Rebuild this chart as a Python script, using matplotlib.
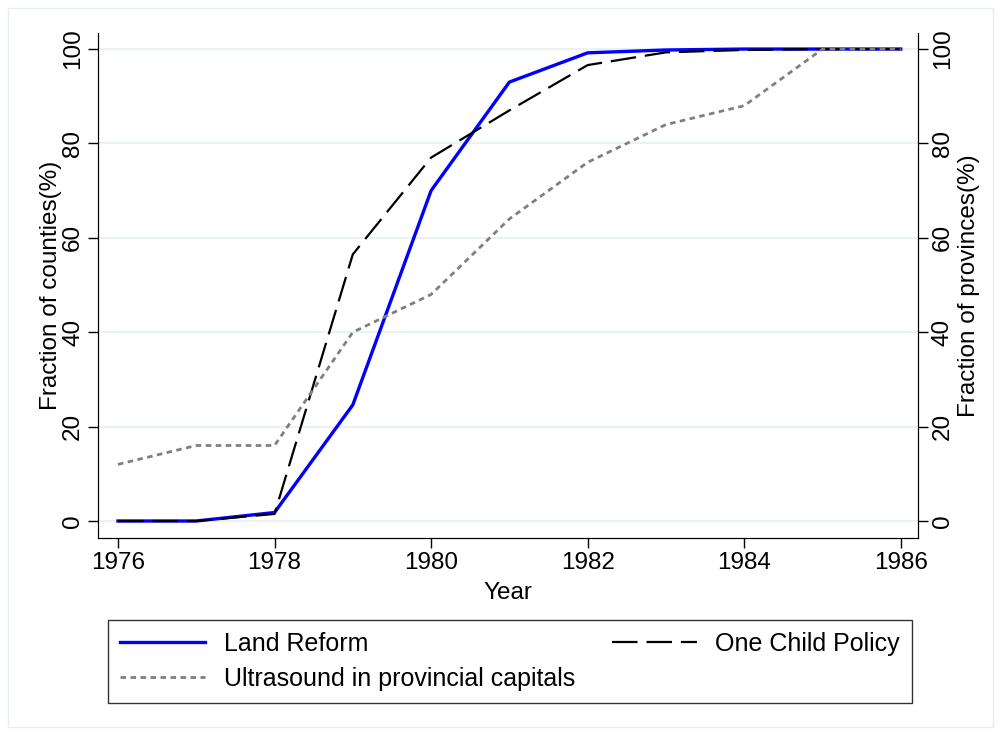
import numpy as np
import matplotlib.pyplot as plt
from matplotlib.patches import Rectangle

plt.rcParams['font.family'] = ['Liberation Sans', 'DejaVu Sans']

years = [1976, 1977, 1978, 1979, 1980, 1981, 1982, 1983, 1984, 1985, 1986]
land_reform = [0, 0, 1.8, 24.6, 70, 93, 99.2, 99.8, 100, 100, 100]
one_child = [0, 0, 1.5, 56.5, 77, 87, 96.6, 99.3, 99.8, 100, 100]
ultrasound = [12, 16, 16, 40, 48, 64, 76, 84, 88, 100, 100]

yticks = [0, 20, 40, 60, 80, 100]
xticks = [1976, 1978, 1980, 1982, 1984, 1986]
fs = 17.5

fig = plt.figure(figsize=(10.01, 7.35), dpi=100)
fig.patches.append(Rectangle((8 / 1001, 8 / 735), 985 / 1001, 719 / 735,
                             transform=fig.transFigure, fill=False,
                             edgecolor='#e6eef0', linewidth=1))

ax = fig.add_axes([98 / 1001, 1 - 538 / 735, 820 / 1001, 505 / 735])
for yv in yticks:
    ax.axhline(yv, color='#eaf2f3', linewidth=1.5, zorder=0)

# blue first, then black dashes, gray dots on top (as in the original)
l1, = ax.plot(years, land_reform, color='#0000ff', linewidth=2.4,
              label='Land Reform')
l2, = ax.plot(years, one_child, color='black', linewidth=1.6,
              linestyle=(0, (11.5, 4)), label='One Child Policy')
l3, = ax.plot(years, ultrasound, color='#808080', linewidth=2,
              linestyle=(0, (2, 1.6)), label='Ultrasound in provincial capitals')

ax.set_xlim(1975.745, 1986.22)
ax.set_ylim(-3.6, 103.4)
ax.set_xticks(xticks)
ax.set_yticks(yticks)
ax.tick_params(labelsize=fs, length=7, width=1, pad=3)
plt.setp(ax.get_yticklabels(), rotation=90, va='center')
ax.set_xlabel('Year', fontsize=fs, labelpad=6)
ax.set_ylabel('Fraction of counties(%)', fontsize=fs, labelpad=0)
ax.spines['top'].set_visible(False)

ax2 = ax.twinx()
ax2.set_ylim(ax.get_ylim())
ax2.set_yticks(yticks)
ax2.tick_params(labelsize=fs, length=7, width=1, pad=3)
plt.setp(ax2.get_yticklabels(), rotation=90, va='center')
ax2.set_ylabel('Fraction of provinces(%)', fontsize=fs, labelpad=3)
ax2.spines['top'].set_visible(False)

leg = fig.legend([l1, l3, l2], [l1.get_label(), l3.get_label(), l2.get_label()],
                 ncol=2, loc='lower left', mode='expand',
                 bbox_to_anchor=(108 / 1001, 1 - 703 / 735, 804 / 1001, 83 / 735),
                 prop={'size': 18}, frameon=True, fancybox=False, edgecolor='black',
                 handlelength=3.4, handletextpad=0.75, borderaxespad=0,
                 labelspacing=0.45, borderpad=0.48)
leg.get_frame().set_linewidth(1)

fig.savefig('out.png', dpi=100)
